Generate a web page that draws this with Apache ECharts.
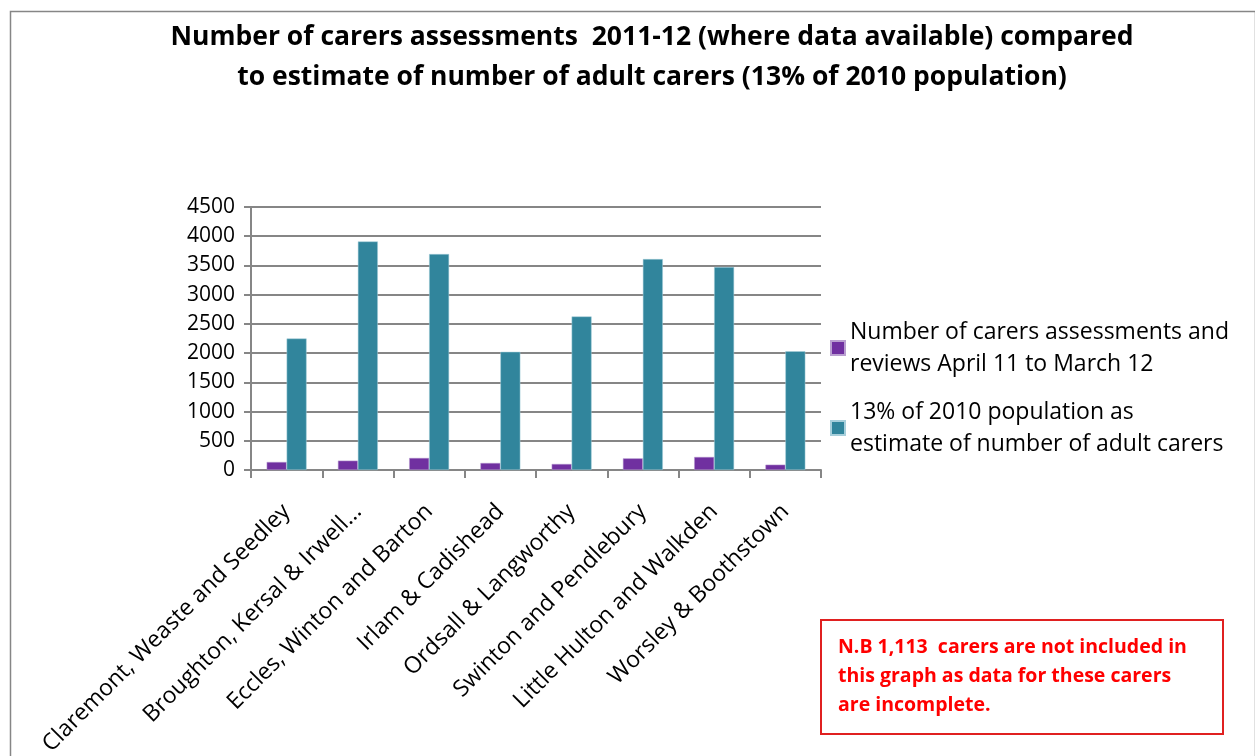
<!DOCTYPE html>
<html>
<head>
<meta charset="utf-8">
<script src="https://cdn.jsdelivr.net/npm/echarts@6/dist/echarts.min.js"></script>
<style>
  html, body { margin: 0; padding: 0; background: #fff; }
  #chart { width: 1255px; height: 756px; }
</style>
</head>
<body>
<div id="chart"></div>
<script>
// wards
const categories = [
  'Claremont, Weaste and Seedley',
  'Broughton, Kersal & Irwell...',
  'Eccles, Winton and Barton',
  'Irlam & Cadishead',
  'Ordsall & Langworthy',
  'Swinton and Pendlebury',
  'Little Hulton and Walkden',
  'Worsley & Boothstown'
]
const assessments = [137, 160, 206, 120, 103, 199, 223, 91]
const estimateCarers = [2250, 3910, 3695, 2022, 2627, 3609, 3472, 2032]
const yTicks = [0, 4500, 500] // min, max, step

const seriesNames = [
  'Number of carers assessments and\nreviews April 11 to March 12',
  '13% of 2010 population as\nestimate of number of adult carers'
]

const font = 'Open Sans'
const chart = echarts.init(document.getElementById('chart'))

chart.setOption({
  animation: false,
  title: {
    text: 'Number of carers assessments  2011-12 (where data available) compared\nto estimate of number of adult carers (13% of 2010 population)',
    left: 647,
    top: 12,
    textAlign: 'center',
    textStyle: {
      fontFamily: font,
      fontWeight: 'bold',
      fontSize: 26.5,
      lineHeight: 40,
      color: '#000'
    }
  },
  grid: {
    left: 251,
    right: 434,
    top: 207,
    bottom: 286,
    containLabel: false,
    outerBoundsMode: 'none'
  },
  legend: {
    orient: 'vertical',
    left: 825,
    top: 311,
    itemWidth: 14,
    itemHeight: 14,
    itemGap: 16,
    icon: 'rect',
    textStyle: {
      fontFamily: font,
      fontSize: 23,
      lineHeight: 32,
      color: '#000'
    }
  },
  xAxis: {
    type: 'category',
    data: categories,
    axisLine: { lineStyle: { color: '#868686', width: 2 } },
    axisTick: { show: true, length: 8, lineStyle: { color: '#868686', width: 2 } },
    axisLabel: {
      interval: 0,
      rotate: 45,
      margin: 38,
      fontFamily: font,
      fontSize: 23,
      color: '#000'
    }
  },
  yAxis: {
    type: 'value',
    min: yTicks[0],
    max: yTicks[1],
    interval: yTicks[2],
    axisLine: { show: true, lineStyle: { color: '#868686', width: 2 } },
    axisTick: { show: true, inside: false, length: 7, lineStyle: { color: '#868686', width: 2 } },
    splitLine: { lineStyle: { color: '#868686', width: 2 } },
    axisLabel: {
      margin: 16,
      fontFamily: font,
      fontSize: 21,
      color: '#000',
      formatter: v => String(v)
    }
  },
  series: [
    {
      name: seriesNames[0],
      type: 'bar',
      data: assessments,
      barGap: 0,
      barCategoryGap: '44%',
      itemStyle: { color: '#7030A0', borderColor: '#b99fd0', borderWidth: 0.5 }
    },
    {
      name: seriesNames[1],
      type: 'bar',
      data: estimateCarers,
      barGap: 0,
      barCategoryGap: '44%',
      itemStyle: { color: '#31859C', borderColor: '#a7cfdb', borderWidth: 0.5 }
    }
  ],
  graphic: [
    {
      type: 'rect',
      left: 8,
      top: 9,
      shape: { width: 1245, height: 760 },
      style: { fill: 'none', stroke: '#868686', lineWidth: 1.5 },
      silent: true
    },
    {
      type: 'group',
      left: 820,
      top: 619,
      children: [
        {
          type: 'rect',
          shape: { width: 402, height: 114 },
          style: { fill: '#fff', stroke: '#e02020', lineWidth: 2 }
        },
        {
          type: 'text',
          left: 17,
          top: 13,
          style: {
            text: 'N.B 1,113  carers are not included in\nthis graph as data for these carers\nare incomplete.',
            fill: '#ff0000',
            fontFamily: font,
            fontWeight: 'bold',
            fontSize: 19.5,
            lineHeight: 29
          }
        }
      ]
    }
  ]
})
</script>
</body>
</html>
